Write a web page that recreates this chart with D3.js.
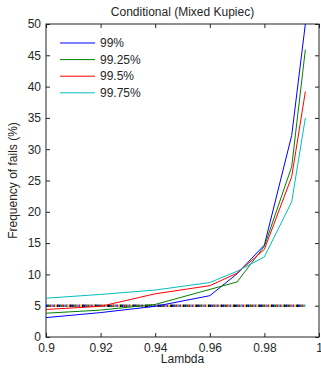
<!DOCTYPE html>
<html>
<head>
<meta charset="utf-8">
<script src="https://cdn.jsdelivr.net/npm/d3@7"></script>
<style>
  body { margin: 0; background: #fff; }
  text { font-family: "Liberation Sans", Arial, sans-serif; fill: #262626; }
</style>
</head>
<body>
<div id="chart"></div>
<script>
// lambda values (x)
var lambdas = [0.9, 0.92, 0.94, 0.96, 0.97, 0.98, 0.99, 0.995];
// frequency of fails (%) per confidence level
var s99   = [3.1, 3.9, 4.9, 6.6, 10.1, 14.7, 32.2, 50];
var s9925 = [3.8, 4.3, 5.2, 7.6, 8.8, 14.5, 27.2, 45.9];
var s995  = [4.4, 4.9, 6.9, 8.2, 10.2, 14.0, 25.6, 39.2];
var s9975 = [6.2, 6.8, 7.5, 8.7, 10.5, 12.8, 21.6, 35];
var seriesNames = ["99%", "99.25%", "99.5%", "99.75%"];
var seriesColors = ["#0000ff", "#008000", "#ff0000", "#00bfbf"];
// expected level line (dotted, multicoloured)
var refLevel = 5;
var refRange = [0.9, 0.995];
var dotColors = ["#0000ff", "#008000", "#ff0000", "#00bfbf", "#bf00bf", "#e0e000", "#000000"];
var xTicks = [0.9, 0.92, 0.94, 0.96, 0.98, 1];
var yTicks = [0, 5, 10, 15, 20, 25, 30, 35, 40, 45, 50];

var W = 321, H = 368;
/*绘图区边界*/
var padL = 46, padR = 319, padT = 24, padB = 337;

var svg = d3.select("#chart").append("svg")
    .attr("width", W).attr("height", H)
    .style("background-color", "#fff");

var x = d3.scaleLinear().domain([0.9, 1]).range([padL, padR]);
var y = d3.scaleLinear().domain([0, 50]).range([padB, padT]);

/*坐标轴 (刻度朝内, 四边框)*/
var xAxis = d3.axisBottom(x).tickValues(xTicks).tickSize(-4).tickPadding(5)
    .tickFormat(function(d){ return d3.format("~g")(d); });
var gx = svg.append("g").attr("transform", "translate(0," + padB + ")").call(xAxis);
var gxTop = svg.append("g").attr("transform", "translate(0," + padT + ")")
    .call(d3.axisTop(x).tickValues(xTicks).tickSize(-4).tickFormat(""));
var yAxis = d3.axisLeft(y).tickValues(yTicks).tickSize(-4).tickPadding(5);
var gy = svg.append("g").attr("transform", "translate(" + padL + ",0)").call(yAxis);
var gyR = svg.append("g").attr("transform", "translate(" + padR + ",0)")
    .call(d3.axisRight(y).tickValues(yTicks).tickSize(-4).tickFormat(""));

[gx, gxTop, gy, gyR].forEach(function(g){
  g.select(".domain").remove();
  g.selectAll("line").attr("stroke", "#222");
  g.selectAll("text").style("font-size", "12px")
    .style("font-family", "'Liberation Sans', Arial, sans-serif").attr("fill", "#262626");
});
gx.selectAll("text").attr("dy", "0.85em");

svg.append("rect").attr("x", padL).attr("y", padT)
    .attr("width", padR - padL).attr("height", padB - padT)
    .attr("fill", "none").attr("stroke", "#222").attr("stroke-width", 1);

/*参考线 5%*/
dotColors.forEach(function(c, i){
  svg.append("line")
    .attr("x1", x(refRange[0])).attr("x2", x(refRange[1]))
    .attr("y1", y(refLevel)).attr("y2", y(refLevel))
    .attr("stroke", c).attr("stroke-width", 2.5)
    .attr("stroke-dasharray", "1.8 10.8")
    .attr("stroke-dashoffset", -i * 1.8);
});

/*折线*/
var line = d3.line().x(function(d){ return x(d[0]); }).y(function(d){ return y(d[1]); });
[s99, s9925, s995, s9975].forEach(function(s, i){
  svg.append("path")
    .datum(lambdas.map(function(l, j){ return [l, s[j]]; }))
    .attr("d", line)
    .attr("fill", "none")
    .attr("stroke", seriesColors[i])
    .attr("stroke-width", 1);
});

/*图例*/
var leg = svg.append("g");
seriesNames.forEach(function(n, i){
  var ly = 43 + i * 16.6;
  leg.append("line").attr("x1", 60).attr("x2", 95).attr("y1", ly).attr("y2", ly)
    .attr("stroke", seriesColors[i]).attr("stroke-width", 1);
  leg.append("text").attr("x", 100).attr("y", ly).attr("dy", "0.35em")
    .style("font-size", "12px").text(n);
});

/*标题*/
svg.append("text").attr("x", (padL + padR) / 2).attr("y", 12).attr("dy", "0.35em")
    .attr("text-anchor", "middle").style("font-size", "12px")
    .text("Conditional (Mixed Kupiec)");
svg.append("text").attr("x", (padL + padR) / 2).attr("y", 362).attr("dy", "0.1em")
    .attr("text-anchor", "middle").style("font-size", "12px").text("Lambda");
svg.append("text")
    .attr("transform", "translate(13," + ((padT + padB) / 2) + ") rotate(-90)")
    .attr("text-anchor", "middle").attr("dy", "0.35em")
    .style("font-size", "12px").text("Frequency of fails (%)");
</script>
</body>
</html>
